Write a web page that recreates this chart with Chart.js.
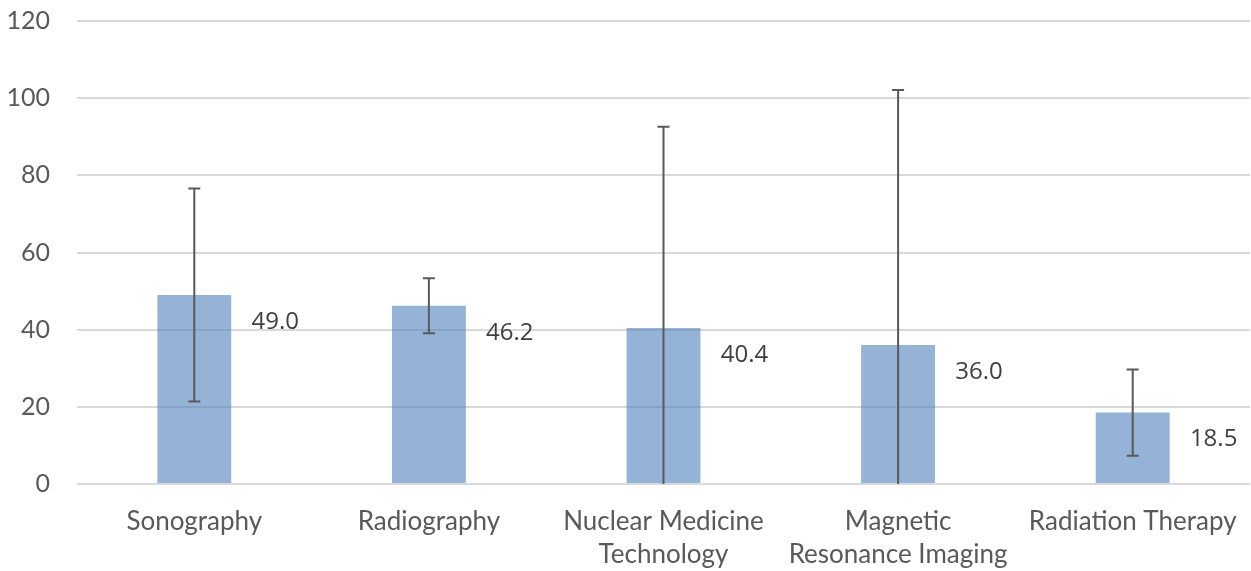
<!DOCTYPE html>
<html>
<head>
<meta charset="utf-8">
<script src="https://cdn.jsdelivr.net/npm/chart.js@4.4.0/dist/chart.umd.min.js"></script>
<style>
    html, body { margin: 0; padding: 0; background: #fff; }
    #wrap { width: 1251px; height: 571px; }
</style>
</head>
<body>
<div id="wrap"><canvas id="chart" width="1251" height="571"></canvas></div>
<script>
// Categories and values
const categories = [
    'Sonography',
    'Radiography',
    ['Nuclear Medicine', 'Technology'],
    ['Magnetic', 'Resonance Imaging'],
    'Radiation Therapy'
];
const means = [49.0, 46.2, 40.4, 36.0, 18.5];
const errors = [27.6, 7.1, 52.2, 66.1, 11.2];   // +/- (standard deviation)
const yTicks = [0, 20, 40, 60, 80, 100, 120];

// Error bars + value labels drawn on top of the bars
const errorBarPlugin = {
    id: 'errorBars',
    afterDatasetsDraw(chart) {
        const ctx = chart.ctx;
        const y = chart.scales.y;
        const area = chart.chartArea;
        const meta = chart.getDatasetMeta(0);
        ctx.save();
        ctx.beginPath();
        ctx.rect(area.left, 0, area.right - area.left, area.bottom);
        ctx.clip();
        ctx.strokeStyle = '#595959';
        ctx.lineWidth = 2;
        meta.data.forEach((bar, i) => {
            const top = y.getPixelForValue(means[i] + errors[i]);
            const bottom = Math.min(y.getPixelForValue(means[i] - errors[i]), area.bottom);
            ctx.beginPath();
            ctx.moveTo(bar.x, top);
            ctx.lineTo(bar.x, bottom);
            ctx.moveTo(bar.x - 6, top);
            ctx.lineTo(bar.x + 6, top);
            if (means[i] - errors[i] > 0) {
                ctx.moveTo(bar.x - 6, bottom);
                ctx.lineTo(bar.x + 6, bottom);
            }
            ctx.stroke();
        });
        ctx.restore();

        // value labels to the right of each bar
        ctx.save();
        ctx.fillStyle = '#404040';
        ctx.font = '24px "Open Sans"';
        ctx.textAlign = 'center';
        ctx.textBaseline = 'middle';
        meta.data.forEach((bar, i) => {
            const step = (area.right - area.left) / means.length;
            ctx.fillText(means[i].toFixed(1), bar.x + step * 0.345, y.getPixelForValue(means[i]) + 27);
        });
        ctx.restore();
    }
};

new Chart(document.getElementById('chart').getContext('2d'), {
    type: 'bar',
    data: {
        labels: categories,
        datasets: [{
            data: means,
            backgroundColor: 'rgba(79,129,189,0.6)',
            borderWidth: 0,
            categoryPercentage: 1,
            barPercentage: 0.315
        }]
    },
    options: {
        responsive: false,
        animation: false,
        layout: { padding: { top: 21, right: 1, left: 0, bottom: 0 } },
        plugins: {
            legend: { display: false },
            tooltip: { enabled: false }
        },
        scales: {
            x: {
                grid: { display: false },
                border: { display: false },
                ticks: {
                    color: '#595959',
                    font: { family: 'Lato', size: 26, lineHeight: 1.27 },
                    padding: 13,
                    maxRotation: 0,
                    autoSkip: false
                },
                afterFit(scale) { scale.height = 87; }
            },
            y: {
                min: 0,
                max: 120,
                afterBuildTicks(scale) { scale.ticks = yTicks.map(v => ({ value: v })); },
                grid: { color: '#d9d9d9', lineWidth: 2, drawTicks: false },
                border: { display: false },
                ticks: {
                    color: '#595959',
                    font: { family: 'Lato', size: 25 },
                    padding: 27
                },
                afterFit(scale) {
                    scale.width = 77;
                    scale.paddingTop = 0;
                    scale.paddingBottom = 0;
                }
            }
        }
    },
    plugins: [errorBarPlugin]
});
</script>
</body>
</html>
